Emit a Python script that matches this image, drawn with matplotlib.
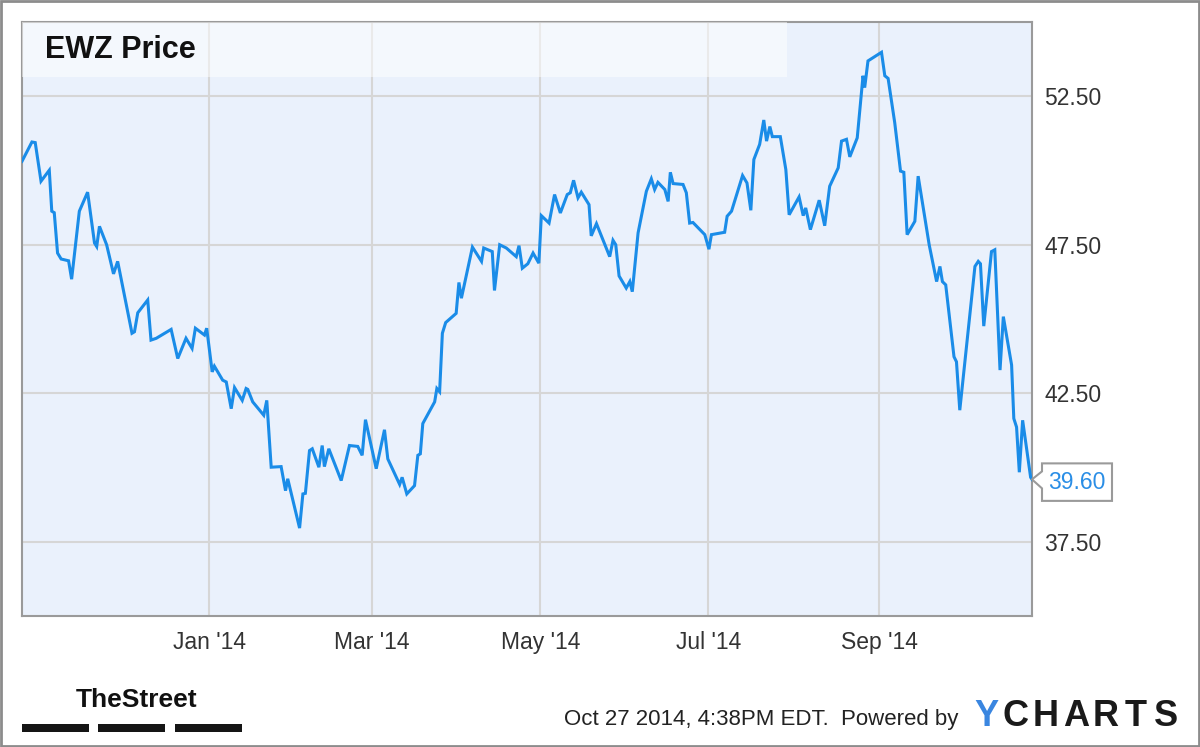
import pandas as pd
import matplotlib.pyplot as plt
import matplotlib.dates as mdates
from matplotlib.patches import Rectangle, Polygon
from matplotlib.transforms import ScaledTranslation

plt.rcParams['font.family'] = ['Liberation Sans', 'DejaVu Sans']

# EWZ closing price.
# days = offset from 2014-01-01 (negative = late 2013)
days = [
    -68.0, -64.4, -63.2, -61.1, -58.1, -57.2, -56.3, -55.1, -53.8, -51.1,
    -50.0, -47.2, -44.2, -41.7, -40.9, -39.9, -37.3, -34.8, -33.3, -28.1,
    -27.2, -26.0, -22.4, -21.2, -19.3, -13.9, -11.5, -8.5, -6.3, -5.1,
    -1.8, -1.0,
    1.0, 1.8, 4.8, 6.1, 7.9, 9.1, 11.9, 13.3, 13.9, 15.7,
    19.7, 20.8, 22.4, 26.0, 27.6, 28.4, 32.7, 33.9, 34.8, 36.3,
    37.3, 39.7, 40.9, 41.7, 43.3, 47.8, 50.8, 53.8, 55.4, 56.6,
    60.5, 63.5, 64.7, 69.0, 69.9, 71.6, 74.4, 75.6, 76.5, 77.4,
    81.7, 82.5, 83.5, 84.5, 85.7, 88.9, 89.5, 90.5, 91.4, 95.4,
    98.7, 99.5, 102.6, 103.4, 105.3, 107.7, 111.3, 112.3, 113.5, 115.5,
    117.4, 119.5, 120.4, 123.2, 125.2, 127.3, 129.8, 130.9, 132.1, 133.7,
    134.9, 137.7, 138.5, 140.4, 145.2, 146.4, 147.4, 148.6, 151.2, 152.5,
    153.4, 155.5, 158.5, 160.3, 161.5, 162.7, 165.2, 166.4, 167.2, 168.2,
    171.8, 173.0, 174.2, 175.4,
    179.7, 181.2, 182.1, 186.9, 187.8, 189.4, 193.4, 195.0, 196.4, 197.5,
    199.6, 201.1, 202.1, 203.3, 204.2, 207.1, 209.1, 210.3, 213.9, 215.4,
    216.3, 218.0, 221.2, 223.2, 225.0, 228.1, 229.3, 231.1, 232.3, 235.0,
    237.1, 237.7, 238.9, 243.8, 245.0, 246.2, 248.6, 250.7, 251.9, 253.1,
    255.9, 257.1, 261.1, 263.8, 265.0, 265.9, 267.1, 270.1, 271.0, 272.2,
    277.7, 278.9, 279.7, 280.9, 283.7, 284.9, 286.8, 288.0, 291.0, 291.8,
    292.8, 293.8, 295.0, 297.9, 298.4,
]
prices = [
    50.31, 50.96, 50.94, 49.64, 50.01, 48.63, 48.58, 47.22, 47.02, 46.96,
    46.34, 48.63, 49.27, 47.56, 47.44, 48.12, 47.50, 46.52, 46.94, 44.52,
    44.57, 45.21, 45.64, 44.29, 44.35, 44.65, 43.67, 44.35, 44.01, 44.69,
    44.46, 44.69,
    43.22, 43.41, 42.94, 42.88, 41.98, 42.69, 42.26, 42.66, 42.63, 42.21,
    41.76, 42.26, 40.01, 40.03, 39.22, 39.62, 37.96, 39.11, 39.13, 40.57,
    40.63, 40.01, 40.74, 40.03, 40.63, 39.56, 40.74, 40.71, 40.41, 41.61,
    39.96, 41.27, 40.29, 39.43, 39.67, 39.11, 39.39, 40.41, 40.46, 41.48,
    42.21, 42.66, 42.55, 44.52, 44.88, 45.14, 45.19, 46.23, 45.70, 47.42,
    46.94, 47.39, 47.27, 45.96, 47.50, 47.39, 47.10, 47.47, 46.71, 46.86,
    47.22, 46.88, 48.48, 48.23, 49.19, 48.57, 49.19, 49.25, 49.67, 49.08,
    49.27, 48.85, 47.80, 48.21, 47.10, 47.65, 47.50, 46.45, 46.04, 46.26,
    45.92, 47.90, 49.30, 49.72, 49.36, 49.60, 49.36, 48.96, 49.94, 49.56,
    49.53, 49.25, 48.23, 48.25,
    47.84, 47.35, 47.84, 47.92, 48.46, 48.63, 49.83, 49.58, 48.66, 50.37,
    50.88, 51.70, 50.99, 51.48, 51.14, 51.14, 50.03, 48.51, 49.11, 48.48,
    48.74, 48.01, 49.00, 48.14, 49.47, 50.09, 50.99, 51.05, 50.46, 51.10,
    53.19, 52.79, 53.69, 53.98, 53.19, 53.10, 51.61, 49.98, 49.94, 47.84,
    48.29, 49.81, 47.50, 46.26, 46.77, 46.26, 46.15, 43.73, 43.56, 41.93,
    46.77, 46.94, 46.86, 44.76, 47.27, 47.33, 43.28, 45.08, 43.45, 41.65,
    41.36, 39.84, 41.59, 39.67, 39.60,
]
y_ticks = [37.5, 42.5, 47.5, 52.5]
tick_months = [1, 3, 5, 7, 9]

dates = pd.Timestamp('2014-01-01') + pd.to_timedelta(days, unit='D')

W, H = 1200, 747
fig = plt.figure(figsize=(W / 100, H / 100), dpi=100)
fig.patch.set_facecolor('white')
ax = fig.add_axes([22 / W, 1 - 616 / H, 1010 / W, 594 / H])
ax.set_facecolor('#eaf1fc')

ax.plot(dates, prices, color='#1a8ce8', lw=2.2, zorder=4, solid_joinstyle='miter')

ax.set_ylim(35, 55)
ax.set_xlim(dates[0], dates[-1])
ax.yaxis.tick_right()
ax.set_yticks(y_ticks)
ax.set_yticklabels(['%.2f' % v for v in y_ticks])
ax.xaxis.set_major_locator(mdates.MonthLocator(bymonth=tick_months))
ax.xaxis.set_major_formatter(mdates.DateFormatter("%b '%y"))
ax.tick_params(axis='both', length=0, labelsize=16.5, labelcolor='#333333')
ax.tick_params(axis='x', pad=11)
ax.tick_params(axis='y', pad=9)
ax.grid(True, color='#d6d6d6', lw=1.5)
ax.set_axisbelow(True)
for s in ax.spines.values():
    s.set_color('#9a9a9a')
    s.set_linewidth(1.5)

# title band
ax.add_patch(Rectangle((0, 1 - 55 / 594), 765 / 1010, 55 / 594, transform=ax.transAxes,
                       facecolor='white', alpha=0.5, lw=0, zorder=3))
ax.text(23 / 1010, 1 - 28 / 594, 'EWZ Price', transform=ax.transAxes, fontsize=22,
        fontweight='bold', color='#111111', va='center', ha='left', zorder=5)

# last-value callout
tr = fig.dpi_scale_trans + ScaledTranslation(mdates.date2num(dates[-1]), prices[-1], ax.transData)
box = [(0, 0), (0.10, 0.08), (0.10, 0.16), (0.80, 0.16), (0.80, -0.215),
       (0.10, -0.215), (0.10, -0.09)]
ax.add_patch(Polygon(box, closed=True, transform=tr, facecolor='white',
                     edgecolor='#9a9a9a', lw=1.5, clip_on=False, zorder=6))
ax.text(0.45, -0.03, '%.2f' % prices[-1], transform=tr, fontsize=16.5, color='#2a8ee6',
        ha='center', va='center', clip_on=False, zorder=7)

# footer: TheStreet logo
fig.text(76 / W, 1 - 700 / H, 'TheStreet', fontsize=19, fontweight='bold',
         color='#111111', ha='left', va='center')
for x0 in (22, 98, 175):
    fig.patches.append(Rectangle((x0 / W, 1 - 732 / H), 67 / W, 8 / H,
                                 transform=fig.transFigure, facecolor='#151515', lw=0))

# footer: date + YCHARTS
fig.text(958 / W, 1 - 719 / H, 'Oct 27 2014, 4:38PM EDT.  Powered by', fontsize=16,
         color='#222222', ha='right', va='center')
for i, ch in enumerate('YCHARTS'):
    fig.text((986 + i * 30) / W, 1 - 717 / H, ch, fontsize=26, fontweight='bold',
             color='#3a86e0' if i == 0 else '#1a1a1a', ha='center', va='center')

# outer border
fig.patches.append(Rectangle((0.001, 0.001), 0.998, 0.998, transform=fig.transFigure,
                             fill=False, edgecolor='#8c8c8c', lw=2))

fig.savefig('out.png', dpi=100)
